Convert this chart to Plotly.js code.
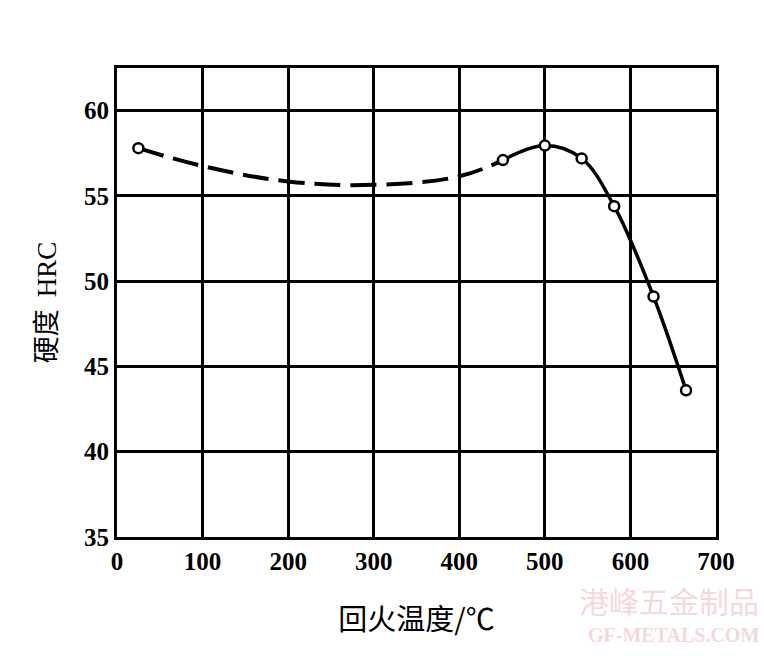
<!DOCTYPE html>
<html>
<head>
<meta charset="utf-8">
<script src="https://cdn.plot.ly/plotly-3.0.1.min.js"></script>
<style>html,body{margin:0;padding:0;background:#fff;}#chart{width:764px;height:661px;}</style>
</head>
<body>
<div id="chart"></div>
<script>
// Measured points (tempering temperature °C, hardness HRC)
const pointTemp = [25, 451, 500, 543, 581, 627, 665];
const pointHRC  = [57.8, 57.1, 57.95, 57.2, 54.4, 49.1, 43.6];

// Dashed (estimated) portion of the curve
const dashTemp = [25, 100, 200, 300, 400, 451];
const dashHRC  = [57.8, 56.75, 55.85, 55.65, 56.15, 57.1];

// Solid portion of the curve
const solidTemp = [451, 500, 543, 581, 627, 665];
const solidHRC  = [57.1, 57.95, 57.2, 54.4, 49.1, 43.6];

const xTicks = [0, 100, 200, 300, 400, 500, 600, 700];
const yTicks = [35, 40, 45, 50, 55, 60];

const serif = 'Liberation Serif, Times New Roman, serif';

const traces = [
  {x: dashTemp, y: dashHRC, mode: 'lines', type: 'scatter',
   line: {color: '#000', width: 4, dash: '26px,10px', shape: 'spline', smoothing: 1.1},
   hoverinfo: 'skip', showlegend: false},
  {x: solidTemp, y: solidHRC, mode: 'lines', type: 'scatter',
   line: {color: '#000', width: 3.5, shape: 'spline', smoothing: 1.0},
   hoverinfo: 'skip', showlegend: false},
  {x: pointTemp, y: pointHRC, mode: 'markers', type: 'scatter',
   marker: {symbol: 'circle', size: 10, color: '#fff', line: {color: '#000', width: 2.5}},
   showlegend: false}
];

const layout = {
  width: 764, height: 661,
  margin: {l: 117, r: 48, t: 68, b: 124},
  paper_bgcolor: '#fff', plot_bgcolor: '#fff',
  showlegend: false,
  xaxis: {
    range: [0, 700], tickvals: xTicks, ticktext: xTicks.map(String),
    showgrid: true, gridcolor: '#000', gridwidth: 3,
    showline: true, linecolor: '#000', linewidth: 3, mirror: true,
    zeroline: false, ticks: '',
    tickfont: {family: serif, size: 25, color: '#000', weight: 'bold'},
    title: {text: '回火温度/℃', font: {family: 'Noto Sans CJK SC, sans-serif', size: 29, color: '#000'}, standoff: 36}
  },
  yaxis: {
    range: [35, 62.5], tickvals: yTicks, ticktext: yTicks.map(String),
    showgrid: true, gridcolor: '#000', gridwidth: 3,
    showline: true, linecolor: '#000', linewidth: 3, mirror: true,
    zeroline: false, ticks: '',
    tickfont: {family: serif, size: 25, color: '#000', weight: 'bold'},
    title: {text: '硬度  <span style="font-family:Liberation Serif">HRC</span>', font: {family: 'Noto Sans CJK SC, sans-serif', size: 27, color: '#000'}, standoff: 20}
  },
  annotations: [
    {xref: 'paper', yref: 'paper', x: 1.075, y: -0.135, xanchor: 'right', yanchor: 'middle',
     text: '港峰五金制品', showarrow: false,
     font: {family: 'Noto Sans CJK SC, sans-serif', size: 30, color: 'rgba(235,150,150,0.4)'}},
    {xref: 'paper', yref: 'paper', x: 1.075, y: -0.21, xanchor: 'right', yanchor: 'middle',
     text: 'GF-METALS.COM', showarrow: false,
     font: {family: serif, size: 20, color: 'rgba(235,150,150,0.4)', weight: 'bold'}}
  ]
};

Plotly.newPlot('chart', traces, layout, {displayModeBar: false, staticPlot: true});
</script>
</body>
</html>
